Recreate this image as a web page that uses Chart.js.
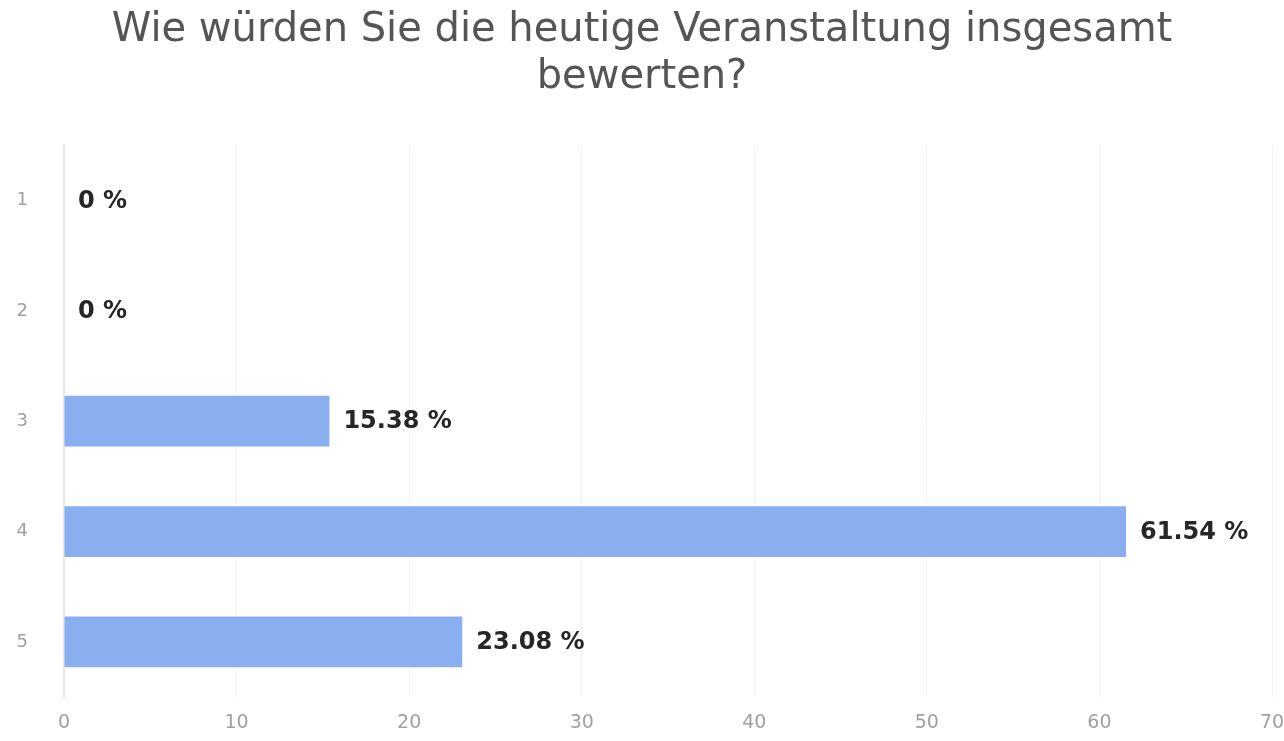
<!DOCTYPE html>
<html>
<head>
<meta charset="utf-8">
<script src="https://cdn.jsdelivr.net/npm/chart.js@4"></script>
<style>
    html, body { margin: 0; padding: 0; background: #fff; }
    .wrap { position: relative; width: 1284px; height: 741px; }
</style>
</head>
<body>
<div class="wrap"><canvas id="chart" width="1284" height="741"></canvas></div>
<script>
const chartTitle = ['Wie würden Sie die heutige Veranstaltung insgesamt', 'bewerten?'];
const categories = ['1', '2', '3', '4', '5'];
const percentages = [0, 0, 15.38, 61.54, 23.08];
const xTicks = [0, 10, 20, 30, 40, 50, 60, 70];

// Prozentwerte rechts neben die Balken schreiben
const valueLabels = {
    id: 'valueLabels',
    afterDatasetsDraw(chart) {
        const ctx = chart.ctx;
        const meta = chart.getDatasetMeta(0);
        ctx.save();
        ctx.font = 'bold 24px "DejaVu Sans"';
        ctx.fillStyle = '#262626';
        ctx.textAlign = 'left';
        ctx.textBaseline = 'middle';
        meta.data.forEach((bar, i) => {
            ctx.fillText(percentages[i] + ' %', bar.x + 14, bar.y + 1);
        });
        ctx.restore();
    }
};

new Chart(document.getElementById('chart').getContext('2d'), {
    type: 'bar',
    data: {
        labels: categories,
        datasets: [{
            data: percentages,
            backgroundColor: '#8aaff0',
            borderWidth: 0,
            barPercentage: 0.46,
            categoryPercentage: 1
        }]
    },
    options: {
        indexAxis: 'y',
        responsive: false,
        animation: false,
        layout: { padding: 0 },
        plugins: {
            legend: { display: false },
            tooltip: { enabled: false },
            title: {
                display: true,
                text: chartTitle,
                color: '#555555',
                font: { family: 'DejaVu Sans', size: 40, weight: 'normal', lineHeight: 1.18 },
                padding: { top: 7, bottom: 44 }
            }
        },
        scales: {
            x: {
                min: 0,
                max: 70,
                afterBuildTicks(scale) {
                    scale.ticks = xTicks.map(v => ({ value: v }));
                },
                afterFit(scale) {
                    scale.height = 44;
                    scale.paddingRight = 12;
                },
                grid: {
                    color: '#f3f3f3',
                    drawTicks: false
                },
                border: { display: false },
                ticks: {
                    color: '#a0a0a0',
                    padding: 15,
                    font: { family: 'DejaVu Sans', size: 19 }
                }
            },
            y: {
                grid: { display: false },
                border: { display: true, color: '#e8e8e8', width: 2 },
                afterFit(scale) {
                    scale.width = 64;
                    scale.paddingTop = 0;
                    scale.paddingBottom = 0;
                },
                ticks: {
                    color: '#a0a0a0',
                    padding: 28,
                    font: { family: 'DejaVu Sans', size: 18 }
                }
            }
        }
    },
    plugins: [valueLabels]
});
</script>
</body>
</html>
